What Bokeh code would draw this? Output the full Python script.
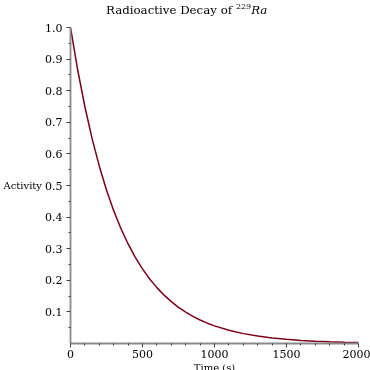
from bokeh.plotting import figure
from bokeh.embed import file_html
from bokeh.resources import INLINE
from bokeh.models import FixedTicker, Range1d, Div, PrintfTickFormatter
from bokeh.layouts import column

# Data
time_s = [0, 50, 100, 150, 200, 250, 300, 350, 400, 450, 500, 550, 600, 650,
          700, 750, 800, 850, 900, 950, 1000, 1100, 1200, 1300, 1400, 1500,
          1600, 1700, 1800, 1900, 2000]
activity = [1.0, 0.8655, 0.7492, 0.6484, 0.5612, 0.4857, 0.4204, 0.3639,
            0.3150, 0.2726, 0.2360, 0.2042, 0.1768, 0.1530, 0.1324, 0.1146,
            0.0992, 0.0859, 0.0743, 0.0643, 0.0557, 0.0417, 0.03125, 0.0234,
            0.0175, 0.0131, 0.0098, 0.0074, 0.0055, 0.0041, 0.0031]
x_ticks = [0, 500, 1000, 1500, 2000]
x_minor = [v * 100 for v in range(0, 21)]
y_ticks = [0.1, 0.2, 0.3, 0.4, 0.5, 0.6, 0.7, 0.8, 0.9, 1.0]
y_minor = [0.05, 0.15, 0.25, 0.35, 0.45, 0.55, 0.65, 0.75, 0.85, 0.95]

FONT = "'DejaVu Serif', serif"

title = Div(
    text=('<div style="font-family:\'DejaVu Serif\',serif;font-size:11.8px;'
          'line-height:16px;padding-top:2px;padding-left:106px;color:black;'
          'white-space:nowrap;">Radioactive Decay of '
          '<span style="font-size:8px;position:relative;top:-5px;">229</span>'
          '<i>Ra</i></div>'),
    width=370, height=20, margin=(0, 0, 0, 0))

p = figure(width=370, height=363, output_backend="svg", toolbar_location=None,
           x_range=Range1d(0, 2000), y_range=Range1d(0, 1.0),
           min_border_left=70, min_border_right=12,
           min_border_top=7, min_border_bottom=40, margin=(0, 0, 0, 0))
p.outline_line_color = None
p.xgrid.visible = False
p.ygrid.visible = False
p.background_fill_color = "white"
p.border_fill_color = "white"

p.line(time_s, activity, line_color="#7A0019", line_width=1.5)

for ax in (p.xaxis[0], p.yaxis[0]):
    ax.axis_line_color = "#8a8a8a"
    ax.axis_line_width = 1.8
    ax.major_tick_line_color = "#404040"
    ax.minor_tick_line_color = "#404040"
    ax.major_tick_in = 0
    ax.major_tick_out = 4
    ax.minor_tick_in = 0
    ax.minor_tick_out = 2
    ax.major_label_text_font = FONT
    ax.major_label_text_font_size = "11px"
    ax.major_label_text_color = "black"
    ax.axis_label_text_font = FONT
    ax.axis_label_text_font_size = "10px"
    ax.axis_label_text_font_style = "normal"
    ax.axis_label_text_color = "black"

p.xaxis[0].ticker = FixedTicker(ticks=x_ticks, minor_ticks=x_minor)
p.yaxis[0].ticker = FixedTicker(ticks=y_ticks, minor_ticks=y_minor)
p.yaxis[0].formatter = PrintfTickFormatter(format="%.1f")
p.xaxis[0].major_label_standoff = 2
p.yaxis[0].major_label_standoff = 4
p.xaxis[0].axis_label = "Time (s)"
p.xaxis[0].axis_label_standoff = 1
p.yaxis[0].axis_label = "Activity"
p.yaxis[0].axis_label_orientation = "horizontal"
p.yaxis[0].axis_label_standoff = 0

layout = column(title, p, spacing=0)
layout.styles = {"position": "fixed", "left": "0px", "top": "0px"}

open("out.html", "w").write(file_html(layout, INLINE))
